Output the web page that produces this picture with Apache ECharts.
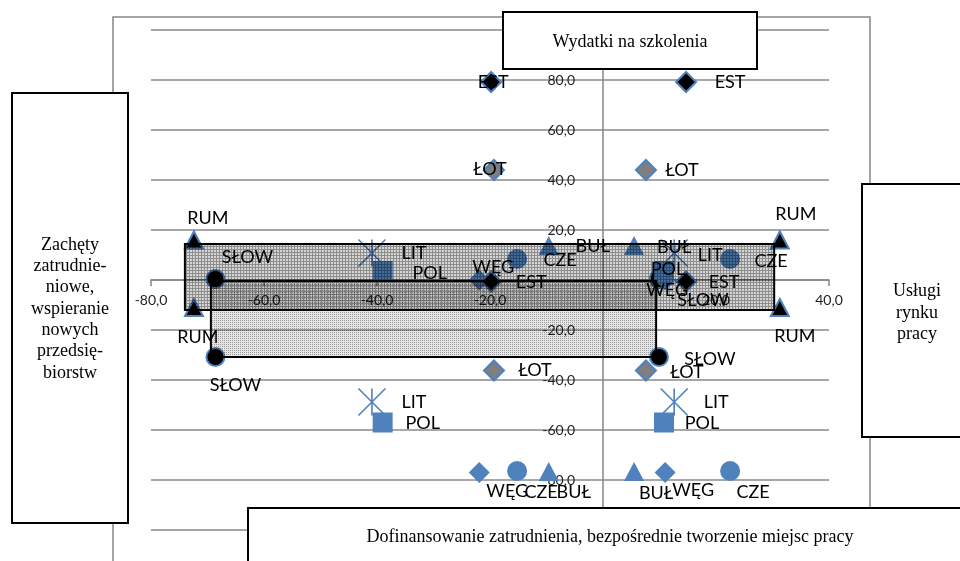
<!DOCTYPE html>
<html>
<head>
<meta charset="utf-8">
<script src="https://cdn.jsdelivr.net/npm/echarts@6/dist/echarts.min.js"></script>
<style>
html,body{margin:0;padding:0;background:#fff;}
#c{width:960px;height:561px;}
</style>
</head>
<body>
<div id="c"></div>
<script>
// ---- data ----
const countries = ['EST', 'ŁOT', 'RUM', 'SŁOW', 'LIT', 'POL', 'WĘG', 'CZE', 'BUŁ'];
// Zachęty zatrudnieniowe (left, x<0)
const zachety = [-19.8, -19.3, -72.4, -68.6, -40.9, -39.0, -21.9, -15.2, -9.6];
// Usługi rynku pracy (right, x>0)
const uslugi = [14.7, 7.6, 31.3, 9.9, 12.6, 10.8, 11.0, 22.5, 5.5];
// Wydatki na szkolenia (top, y>0)
const wydatki = [79.2, 44.0, 16.0, 0.4, 10.8, 3.6, 0.0, 8.4, 13.8];
// Dofinansowanie zatrudnienia (bottom, y<0)
const dofinansowanie = [-0.6, -36.2, -11.0, -30.8, -48.8, -57.0, -77.0, -76.4, -76.6];

// highlighted bands: [xFrom, xTo, yTop, yBottom]
const bandRUM = [-74.0, 30.3, 14.4, -12.0];
const bandSLOW = [-69.4, 9.4, -0.4, -30.8];

const xTickValues = [-80, -60, -40, -20, 0, 20, 40];
const xTickLabels = ['-80,0', '-60,0', '-40,0', '-20,0', '', '20,0', '40,0'];
const yTickValues = [-100, -80, -60, -40, -20, 0, 20, 40, 60, 80, 100];
const yTickLabels = ['-100,0', '-80,0', '-60,0', '-40,0', '-20,0', '', '20,0', '40,0', '60,0', '80,0', '100,0'];

const boxTop = 'Wydatki na szkolenia';
const boxLeft = 'Zachęty\nzatrudnie-\nniowe,\nwspieranie\nnowych\nprzedsię-\nbiorstw';
const boxRight = 'Usługi\nrynku\npracy';
const boxBottom = 'Dofinansowanie zatrudnienia, bezpośrednie tworzenie miejsc pracy';

// ---- styles ----
const BLUE = '#4F81BD';
const ASTER = 'path://M0,0L10,10M10,0L0,10M5,0L5,10';
const markerStyle = {
  'EST':  {symbol: 'diamond', size: 20, color: '#000', border: BLUE, bw: 2},
  'ŁOT':  {symbol: 'diamond', size: 20, color: '#7f7f7f', border: BLUE, bw: 2},
  'RUM':  {symbol: 'triangle', size: [18, 17], color: '#000', border: BLUE, bw: 2},
  'SŁOW': {symbol: 'circle', size: 18, color: '#000', border: BLUE, bw: 2},
  'LIT':  {symbol: ASTER, size: 27, color: 'rgba(0,0,0,0)', border: BLUE, bw: 1.6},
  'POL':  {symbol: 'rect', size: 20, color: BLUE, border: BLUE, bw: 0},
  'WĘG':  {symbol: 'diamond', size: 21, color: BLUE, border: BLUE, bw: 0},
  'CZE':  {symbol: 'circle', size: 20, color: BLUE, border: BLUE, bw: 0},
  'BUŁ':  {symbol: 'triangle', size: [20, 19], color: BLUE, border: BLUE, bw: 0}
};
// label offsets (px) for points in order: left-top, right-top, left-bottom, right-bottom
const labelOffsets = {
  'EST':  [[2, 0], [44, 0], [40, 1], [38, 1]],
  'ŁOT':  [[-4, -1], [36, 0], [41, 0], [41, 2]],
  'RUM':  [[14, -22], [16, -26], [4, 30], [15, 29]],
  'SŁOW': [[32, -22], [44, 21], [20, 28], [51, 2]],
  'LIT':  [[42, 0], [36, 2], [42, 0], [42, 0]],
  'POL':  [[47, 2], [4, -2], [40, 1], [38, 1]],
  'WĘG':  [[14, -13], [2, 10], [28, 19], [28, 18]],
  'CZE':  [[43, 1], [41, 2], [24, 21], [23, 21]],
  'BUŁ':  [[44, 1], [40, 2], [25, 21], [22, 22]]
};
const drawOrder = ['SŁOW', 'RUM', 'LIT', 'CZE', 'BUŁ', 'POL', 'WĘG', 'ŁOT', 'EST'];

function makePattern(size, base, dot, grid) {
  const c = document.createElement('canvas');
  c.width = c.height = size;
  const g = c.getContext('2d');
  g.fillStyle = base; g.fillRect(0, 0, size, size);
  g.fillStyle = dot;
  if (grid) { g.fillRect(0, 0, size, 1); g.fillRect(0, 1, 1, size - 1); }
  else { g.fillRect(0, 0, 1, 1); }
  return c;
}
const pat1 = makePattern(3, 'rgba(0,0,0,0.16)', 'rgba(0,0,0,0.34)', true);
const pat2 = makePattern(2, 'rgba(0,0,0,0.10)', 'rgba(0,0,0,0.32)', false);

const scatterSeries = drawOrder.map(function (name) {
  const i = countries.indexOf(name);
  const pts = [
    [zachety[i], wydatki[i]],
    [uslugi[i], wydatki[i]],
    [zachety[i], dofinansowanie[i]],
    [uslugi[i], dofinansowanie[i]]
  ];
  const st = markerStyle[name];
  return {
    type: 'scatter',
    name: name,
    z: 2,
    symbol: st.symbol,
    symbolSize: st.size,
    itemStyle: {color: st.color, borderColor: st.border, borderWidth: st.bw, opacity: 1},
    data: pts.map(function (p, k) {
      return {
        value: p,
        label: {
          show: true, position: 'inside', offset: labelOffsets[name][k],
          formatter: name, color: '#000', fontFamily: 'Lato', fontSize: 18,
          align: 'center', verticalAlign: 'middle'
        }
      };
    }),
    emphasis: {disabled: true},
    animation: false
  };
});

function bandSeries(band, pattern) {
  return {
    type: 'custom',
    z: 5,
    silent: true,
    animation: false,
    data: [band],
    renderItem: function (params, api) {
      const p0 = api.coord([api.value(0), api.value(2)]);
      const p1 = api.coord([api.value(1), api.value(3)]);
      return {
        type: 'rect',
        shape: {x: p0[0], y: p0[1], width: p1[0] - p0[0], height: p1[1] - p0[1]},
        style: {fill: {image: pattern, repeat: 'repeat'}, stroke: '#000', lineWidth: 2}
      };
    }
  };
}

function boxRect(x, y, w, h, text, tx, ty, lh) {
  return [
    {type: 'rect', z: 100, shape: {x: x, y: y, width: w, height: h},
     style: {fill: '#fff', stroke: '#000', lineWidth: 2}},
    {type: 'text', z: 101, x: tx, y: ty,
     style: {text: text, font: '18px "Liberation Serif"', fill: '#000',
             align: 'center', verticalAlign: 'middle', textAlign: 'center', textVerticalAlign: 'middle',
             lineHeight: lh}}
  ];
}

// grid geometry
const GRID_L = 151, GRID_R = 829, GRID_T = 30, GRID_B = 530;
const X_MIN = -80, X_MAX = 40, Y_MIN = -100, Y_MAX = 100;
// shift axes so that they cross at the origin
const yAxisOffset = -((0 - X_MIN) / (X_MAX - X_MIN)) * (GRID_R - GRID_L);
const xAxisOffset = -((0 - Y_MIN) / (Y_MAX - Y_MIN)) * (GRID_B - GRID_T);

const chart = echarts.init(document.getElementById('c'), null, {renderer: 'canvas'});
chart.setOption({
  animation: false,
  backgroundColor: '#fff',
  grid: {left: GRID_L, right: 960 - GRID_R, top: GRID_T, bottom: 561 - GRID_B, containLabel: false},
  xAxis: {
    type: 'value', min: X_MIN, max: X_MAX, interval: 20,
    position: 'bottom', offset: xAxisOffset,
    axisLine: {show: true, onZero: false, lineStyle: {color: '#868686', width: 1.5}},
    axisTick: {show: true, length: 6, lineStyle: {color: '#868686', width: 1.5}},
    axisLabel: {
      margin: 13, color: '#1f1f1f', fontFamily: 'Lato', fontSize: 14,
      formatter: function (v) { const k = xTickValues.indexOf(Math.round(v)); return k >= 0 ? xTickLabels[k] : ''; }
    },
    splitLine: {show: false}
  },
  yAxis: {
    type: 'value', min: Y_MIN, max: Y_MAX, interval: 20,
    position: 'left', offset: yAxisOffset,
    axisLine: {show: true, onZero: false, lineStyle: {color: '#868686', width: 1.5}},
    axisTick: {show: false},
    axisLabel: {
      margin: 28, color: '#1f1f1f', fontFamily: 'Lato', fontSize: 14,
      formatter: function (v) { const k = yTickValues.indexOf(Math.round(v)); return k >= 0 ? yTickLabels[k] : ''; }
    },
    splitLine: {show: true, lineStyle: {color: '#8a8a8a', width: 1.5}}
  },
  graphic: [
    {type: 'rect', z: 1, shape: {x: 113, y: 17, width: 757, height: 620},
     style: {fill: 'none', stroke: '#868686', lineWidth: 1.5}}
  ].concat(
    boxRect(503, 12, 254, 57, boxTop, 630, 42, 21),
    boxRect(12, 93, 116, 430, boxLeft, 70, 309, 21.3),
    boxRect(862, 184, 110, 253, boxRight, 917, 313, 21.5),
    boxRect(248, 508, 724, 70, boxBottom, 610, 537, 21)
  ),
  series: scatterSeries.concat([bandSeries(bandRUM, pat1), bandSeries(bandSLOW, pat2)])
});
</script>
</body>
</html>
